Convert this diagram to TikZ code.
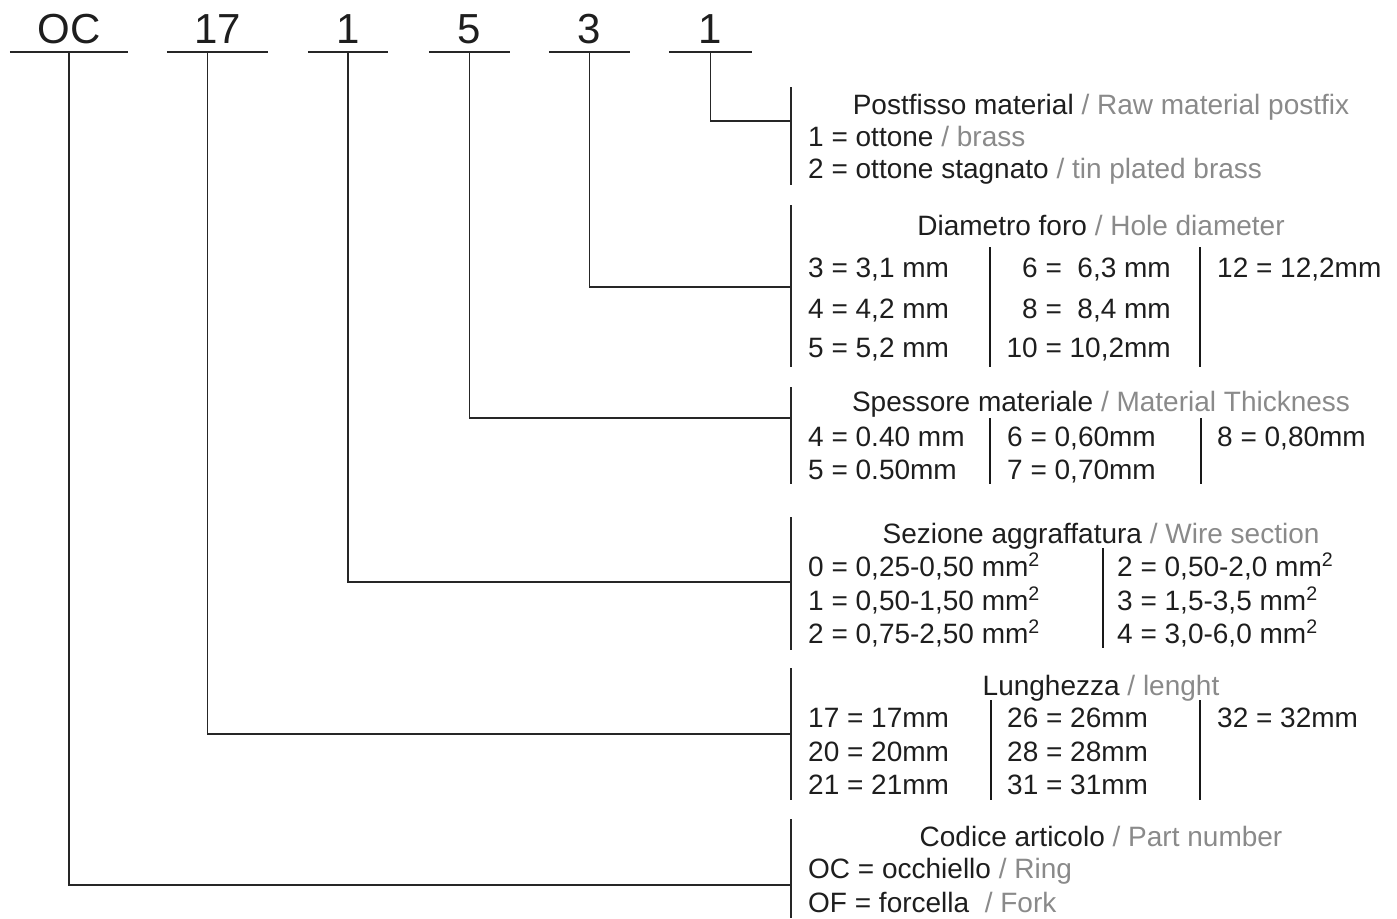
\documentclass[tikz,border=0pt]{standalone}
\usepackage{fontspec}
\setmainfont{Liberation Sans}
\usetikzlibrary{positioning}
\definecolor{txtdark}{HTML}{1E1E1E}
\definecolor{txtgrey}{HTML}{8A8A8A}
\newcommand{\en}[1]{\textcolor{txtgrey}{#1}}
\newcommand{\sq}{mm\textsuperscript{2}}

\begin{document}
\begin{tikzpicture}[
  x=1pt, y=-1pt,
  font=\fontsize{28}{32}\selectfont,
  every node/.style={text=txtdark},
  codenum/.style={
    anchor=south, inner xsep=0pt, inner ysep=8pt,
    text depth=0pt, font=\fontsize{42}{48}\selectfont
  },
  title/.style={anchor=base, inner sep=0pt},
  entry/.style={anchor=base west, inner sep=0pt},
  entryr/.style={anchor=base east, inner sep=0pt},
  conn/.style={line width=1.1pt, black!85},
  bracket/.style={line width=1.1pt, black!85},
  colsep/.style={line width=1.8pt, black!90}
]
\useasboundingbox (0,0) rectangle (1397,918);

%% ── Code digits on top ──────────────────────────────────────────────
\node[codenum, minimum width=118pt] (cOC)   at (69,52)    {OC};
\node[codenum, minimum width=101pt] (cLen)  at (217.5,52) {17};
\node[codenum, minimum width=80pt]  (cSez)  at (348,52)   {1};
\node[codenum, minimum width=81pt]  (cSpe)  at (469.5,52) {5};
\node[codenum, minimum width=81pt]  (cDia)  at (589.5,52) {3};
\node[codenum, minimum width=83pt]  (cPost) at (710.5,52) {1};

\draw[conn] (cOC.south west)   -- (cOC.south east);
\draw[conn] (cLen.south west)  -- (cLen.south east);
\draw[conn] (cSez.south west)  -- (cSez.south east);
\draw[conn] (cSpe.south west)  -- (cSpe.south east);
\draw[conn] (cDia.south west)  -- (cDia.south east);
\draw[conn] (cPost.south west) -- (cPost.south east);

%% ── Postfisso material ──────────────────────────────────────────────
\draw[bracket] (791,87) -- (791,185);
\coordinate (jPost) at (791,121);
\node[title] (tPost) at (1101,114) {Postfisso material \en{/ Raw material postfix}};
\node[entry] (ePost1) at (808,146) {1 = ottone \en{/ brass}};
\node[entry] (ePost2) at (808,178) {2 = ottone stagnato \en{/ tin plated brass}};
\draw[conn] (cPost.south) |- (jPost);

%% ── Diametro foro ───────────────────────────────────────────────────
\draw[bracket] (791,205) -- (791,367);
\coordinate (jDia) at (791,287);
\node[title] (tDia) at (1101,235) {Diametro foro \en{/ Hole diameter}};
\node[entry]  (eDia1) at (808,277)  {3 = 3,1 mm};
\node[entry]  (eDia2) at (808,318)  {4 = 4,2 mm};
\node[entry]  (eDia3) at (808,357)  {5 = 5,2 mm};
\node[entryr] (eDia4) at (1171,277) {6 = \ 6,3 mm};
\node[entryr] (eDia5) at (1171,318) {8 = \ 8,4 mm};
\node[entryr] (eDia6) at (1171,357) {10 = 10,2mm};
\node[entry]  (eDia7) at (1217,277) {12 = 12,2mm};
\draw[colsep] (990,247) -- (990,367);
\draw[colsep] (1200,247) -- (1200,367);
\draw[conn] (cDia.south) |- (jDia);

%% ── Spessore materiale ──────────────────────────────────────────────
\draw[bracket] (791,387) -- (791,484);
\coordinate (jSpe) at (791,418);
\node[title] (tSpe) at (1101,411) {Spessore materiale \en{/ Material Thickness}};
\node[entry] (eSpe1) at (808,446)  {4 = 0.40 mm};
\node[entry] (eSpe2) at (808,479)  {5 = 0.50mm};
\node[entry] (eSpe3) at (1007,446) {6 = 0,60mm};
\node[entry] (eSpe4) at (1007,479) {7 = 0,70mm};
\node[entry] (eSpe5) at (1217,446) {8 = 0,80mm};
\draw[colsep] (990,418) -- (990,484);
\draw[colsep] (1201,418) -- (1201,484);
\draw[conn] (cSpe.south) |- (jSpe);

%% ── Sezione aggraffatura ────────────────────────────────────────────
\draw[bracket] (791,517) -- (791,650);
\coordinate (jSez) at (791,582);
\node[title] (tSez) at (1101,543) {Sezione aggraffatura \en{/ Wire section}};
\node[entry] (eSez1) at (808,576)  {0 = 0,25-0,50 \sq};
\node[entry] (eSez2) at (808,610)  {1 = 0,50-1,50 \sq};
\node[entry] (eSez3) at (808,643)  {2 = 0,75-2,50 \sq};
\node[entry] (eSez4) at (1117,576) {2 = 0,50-2,0 \sq};
\node[entry] (eSez5) at (1117,610) {3 = 1,5-3,5 \sq};
\node[entry] (eSez6) at (1117,643) {4 = 3,0-6,0 \sq};
\draw[colsep] (1103,548) -- (1103,648);
\draw[conn] (cSez.south) |- (jSez);

%% ── Lunghezza ───────────────────────────────────────────────────────
\draw[bracket] (791,668) -- (791,800);
\coordinate (jLen) at (791,734);
\node[title] (tLen) at (1101,695) {Lunghezza \en{/ lenght}};
\node[entry] (eLen1) at (808,727)  {17 = 17mm};
\node[entry] (eLen2) at (808,761)  {20 = 20mm};
\node[entry] (eLen3) at (808,794)  {21 = 21mm};
\node[entry] (eLen4) at (1007,727) {26 = 26mm};
\node[entry] (eLen5) at (1007,761) {28 = 28mm};
\node[entry] (eLen6) at (1007,794) {31 = 31mm};
\node[entry] (eLen7) at (1217,727) {32 = 32mm};
\draw[colsep] (991,700) -- (991,800);
\draw[colsep] (1200,700) -- (1200,800);
\draw[conn] ([xshift=-10pt]cLen.south) |- (jLen);

%% ── Codice articolo ─────────────────────────────────────────────────
\draw[bracket] (791,819) -- (791,918);
\coordinate (jCod) at (791,885);
\node[title] (tCod) at (1101,846) {Codice articolo \en{/ Part number}};
\node[entry] (eCod1) at (808,878) {OC = occhiello \en{/ Ring}};
\node[entry] (eCod2) at (808,912) {OF = forcella \ \en{/ Fork}};
\draw[conn] (cOC.south) |- (jCod);

\end{tikzpicture}
\end{document}
